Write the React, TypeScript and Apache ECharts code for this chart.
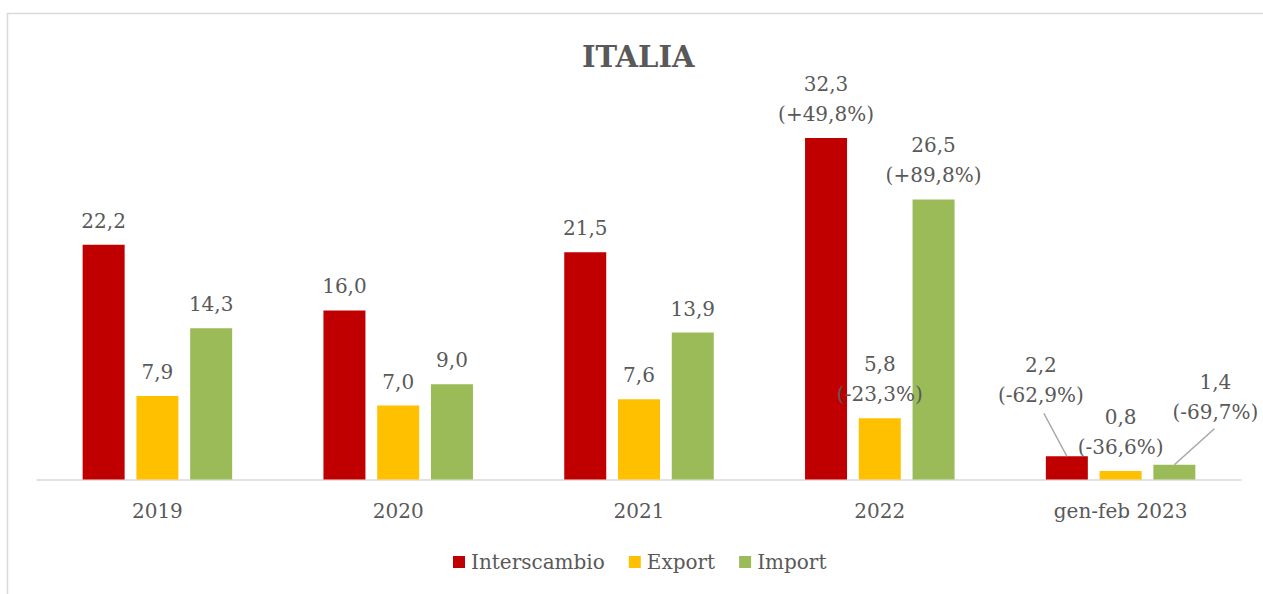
import React, { useEffect, useRef } from "react";
import * as echarts from "echarts";

const categories = ["2019", "2020", "2021", "2022", "gen-feb 2023"];
const interscambio = [22.2, 16.0, 21.5, 32.3, 2.2];
const exportVals = [7.9, 7.0, 7.6, 5.8, 0.8];
const importVals = [14.3, 9.0, 13.9, 26.5, 1.4];
const interscambioPct = [null, null, null, "+49,8%", "-62,9%"];
const exportPct = [null, null, null, "-23,3%", "-36,6%"];
const importPct = [null, null, null, "+89,8%", "-69,7%"];

const FONT = "'DejaVu Serif', serif";
const TEXT = "#595959";

// label offsets (style) for the last category
const shifts: Record<number, [number, number]> = { 0: [-26, -37], 1: [0, 0], 2: [41, -29] };
// leader line start offsets relative to bar top center (style)
const leaderStart: Record<number, [number, number]> = { 0: [-23, -43], 2: [40, -36] };
const BAR_W = 42;
const BAR_GAP = 0.28;

function fmt(v: number, pct: string | null) {
  const s = v.toFixed(1).replace(".", ",");
  return pct ? s + "\n(" + pct + ")" : s;
}

function makeData(vals: number[], pcts: (string | null)[]) {
  return vals.map((v, i) => ({ value: v, pct: pcts[i] }));
}

export default function App() {
  const ref = useRef<HTMLDivElement>(null);
  useEffect(() => {
    if (!ref.current) return;
    const chart = echarts.init(ref.current, undefined, { renderer: "svg" });
    const label = {
      show: true,
      position: "top",
      distance: 9,
      color: TEXT,
      fontFamily: FONT,
      fontSize: 20,
      lineHeight: 30,
      formatter: (p: any) => fmt(p.value, p.data.pct),
    };
    const mkLayout = (si: number) => (params: any) => {
      if (params.dataIndex === 4) {
        const s = shifts[si];
        return { dx: s[0], dy: s[1] };
      }
      return {};
    };
    const lastIdx = categories.length - 1;
    const leaderData = [
      [lastIdx, interscambio[lastIdx], 0],
      [lastIdx, importVals[lastIdx], 2],
    ];
    chart.setOption({
      animation: false,
      backgroundColor: "#ffffff",
      title: {
        text: "ITALIA",
        left: 577,
        top: 37,
        textStyle: { fontFamily: FONT, fontSize: 29, fontWeight: "bold", color: TEXT },
      },
      graphic: [
        {
          type: "rect",
          shape: { x: 7.5, y: 13.5, width: 1300, height: 640 },
          style: { fill: "none", stroke: "#d9d9d9", lineWidth: 1.5 },
          silent: true,
        },
      ],
      legend: {
        data: ["Interscambio", "Export", "Import"],
        left: 448,
        top: 547,
        itemWidth: 12,
        itemHeight: 12,
        itemGap: 24,
        icon: "rect",
        textStyle: { fontFamily: FONT, fontSize: 20, color: TEXT, padding: [0, 0, 0, 1] },
      },
      grid: { left: 37, right: 22, top: 56.7, bottom: 114.5, containLabel: false },
      xAxis: {
        type: "category",
        data: categories,
        axisLine: { lineStyle: { color: "#d9d9d9", width: 1.5 } },
        axisTick: { show: false },
        axisLabel: { color: TEXT, fontFamily: FONT, fontSize: 20, margin: 21 },
      },
      yAxis: {
        type: "value",
        min: 0,
        max: 40,
        show: false,
        splitLine: { show: false },
      },
      series: [
        {
          name: "Interscambio",
          type: "bar",
          data: makeData(interscambio, interscambioPct),
          barWidth: BAR_W,
          barGap: BAR_GAP * 100 + "%",
          itemStyle: { color: "#C00000" },
          label,
          labelLayout: mkLayout(0),
        },
        {
          name: "Export",
          type: "bar",
          data: makeData(exportVals, exportPct),
          barWidth: BAR_W,
          barGap: BAR_GAP * 100 + "%",
          itemStyle: { color: "#FFC000" },
          label,
          labelLayout: mkLayout(1),
        },
        {
          name: "Import",
          type: "bar",
          data: makeData(importVals, importPct),
          barWidth: BAR_W,
          barGap: BAR_GAP * 100 + "%",
          itemStyle: { color: "#9BBB59" },
          label,
          labelLayout: mkLayout(2),
        },
        {
          name: "leaders",
          type: "custom",
          silent: true,
          z: 5,
          data: leaderData,
          renderItem: (params: any, api: any) => {
            const pt = api.coord([api.value(0), api.value(1)]);
            const si = api.value(2);
            const off = (si - 1) * BAR_W * (1 + BAR_GAP);
            const ex = pt[0] + off;
            const ey = pt[1];
            const st = leaderStart[si];
            return {
              type: "line",
              shape: { x1: ex + st[0], y1: ey + st[1], x2: ex, y2: ey },
              style: { stroke: "#a6a6a6", lineWidth: 1.5 },
            };
          },
        },
      ],
    });
    return () => chart.dispose();
  }, []);
  return (
    <div
      ref={ref}
      style={{ position: "absolute", left: 0, top: 0, width: 1263, height: 594 }}
    />
  );
}
